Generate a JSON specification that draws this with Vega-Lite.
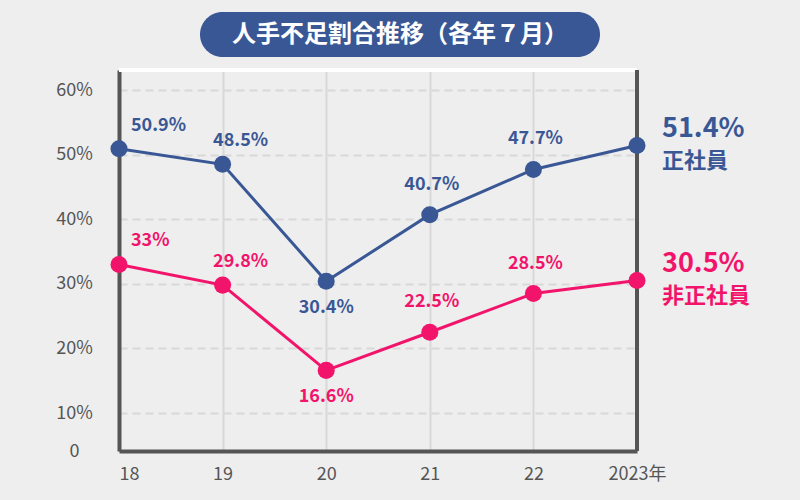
{
  "$schema": "https://vega.github.io/schema/vega-lite/v6.json",
  "width": 518,
  "height": 381,
  "autosize": {"type": "none"},
  "padding": {"left": 119, "top": 70, "right": 163, "bottom": 49},
  "background": "#eeeeee",
  "config": {
    "view": {"stroke": null, "fill": "#eeeeee"},
    "font": "Noto Sans CJK JP",
    "axis": {"labelFont": "Noto Sans CJK JP"}
  },
  "data": {
    "values": [
      {"year": "18", "type": "正社員", "value": 50.9, "label": "50.9%"},
      {"year": "19", "type": "正社員", "value": 48.5, "label": "48.5%"},
      {"year": "20", "type": "正社員", "value": 30.4, "label": "30.4%"},
      {"year": "21", "type": "正社員", "value": 40.7, "label": "40.7%"},
      {"year": "22", "type": "正社員", "value": 47.7, "label": "47.7%"},
      {"year": "2023", "type": "正社員", "value": 51.4, "label": "51.4%"},
      {"year": "18", "type": "非正社員", "value": 33, "label": "33%"},
      {"year": "19", "type": "非正社員", "value": 29.8, "label": "29.8%"},
      {"year": "20", "type": "非正社員", "value": 16.6, "label": "16.6%"},
      {"year": "21", "type": "非正社員", "value": 22.5, "label": "22.5%"},
      {"year": "22", "type": "非正社員", "value": 28.5, "label": "28.5%"},
      {"year": "2023", "type": "非正社員", "value": 30.5, "label": "30.5%"}
    ]
  },
  "layer": [
    {
      "mark": {"type": "line", "strokeWidth": 3},
      "encoding": {
        "x": {
          "field": "year", "type": "ordinal", "title": null,
          "scale": {"type": "point", "padding": 0, "domain": ["18", "19", "20", "21", "22", "2023"]},
          "axis": {
            "title": null, "domainColor": "#555555", "domainWidth": 4,
            "ticks": false, "tickSize": 0, "labelPadding": 14, "labelFontSize": 18,
            "labelColor": "#555555", "labelAngle": 0, "labelBaseline": "top",
            "labelExpr": "datum.value == '2023' ? '2023年' : datum.value",
            "labelAlign": {"condition": {"test": "datum.value == '18'", "value": "left"}, "value": "center"},
            "grid": true, "gridColor": "#d8d8d8", "gridWidth": 2, "labelOverlap": false
          }
        },
        "y": {
          "field": "value", "type": "quantitative", "title": null,
          "scale": {"domain": [4.12, 63.1], "nice": false, "zero": false},
          "axis": {
            "title": null, "values": [4.12, 10, 20, 30, 40, 50, 60],
            "labelExpr": "datum.value < 5 ? '0' : datum.value + '%'",
            "domainColor": "#555555", "domainWidth": 4, "ticks": false, "tickSize": 0,
            "labelPadding": 45, "labelAlign": "center", "labelFontSize": 18, "labelColor": "#555555",
            "grid": true, "gridColor": "#d8d8d8", "gridDash": [8, 5], "gridWidth": 2, "labelOverlap": false
          }
        },
        "color": {
          "field": "type", "type": "nominal",
          "scale": {"domain": ["正社員", "非正社員"], "range": ["#3a5795", "#f2146b"]},
          "legend": null
        }
      }
    },
    {
      "data": {"values": [{"edge": "top"}]},
      "mark": {"type": "rule", "color": "#ffffff", "strokeWidth": 4},
      "encoding": {"y": {"datum": 63.1, "type": "quantitative", "title": null}}
    },
    {
      "data": {"values": [{"edge": "right"}]},
      "mark": {"type": "rule", "color": "#555555", "strokeWidth": 4},
      "encoding": {"x": {"datum": "2023", "type": "ordinal", "title": null}}
    },
    {
      "mark": {"type": "point", "filled": true, "size": 290, "opacity": 1},
      "encoding": {
        "x": {"field": "year", "type": "ordinal", "title": null},
        "y": {"field": "value", "type": "quantitative", "title": null},
        "color": {"field": "type", "type": "nominal", "legend": null}
      }
    },
    {
      "transform": [{"filter": "datum.year == '18'"}],
      "mark": {"type": "text", "align": "left", "dx": 12, "dy": -23, "fontSize": 18, "fontWeight": "bold"},
      "encoding": {
        "x": {"field": "year", "type": "ordinal", "title": null},
        "y": {"field": "value", "type": "quantitative", "title": null},
        "color": {"field": "type", "type": "nominal", "legend": null},
        "text": {"field": "label"}
      }
    },
    {
      "transform": [{"filter": "datum.year == '19'"}],
      "mark": {"type": "text", "align": "center", "dx": 18, "dy": -23, "fontSize": 18, "fontWeight": "bold"},
      "encoding": {
        "x": {"field": "year", "type": "ordinal", "title": null},
        "y": {"field": "value", "type": "quantitative", "title": null},
        "color": {"field": "type", "type": "nominal", "legend": null},
        "text": {"field": "label"}
      }
    },
    {
      "transform": [{"filter": "datum.year == '21' || datum.year == '22'"}],
      "mark": {"type": "text", "align": "center", "dx": 2, "dy": -30, "fontSize": 18, "fontWeight": "bold"},
      "encoding": {
        "x": {"field": "year", "type": "ordinal", "title": null},
        "y": {"field": "value", "type": "quantitative", "title": null},
        "color": {"field": "type", "type": "nominal", "legend": null},
        "text": {"field": "label"}
      }
    },
    {
      "transform": [{"filter": "datum.year == '20'"}],
      "mark": {"type": "text", "align": "center", "dy": 27, "fontSize": 18, "fontWeight": "bold"},
      "encoding": {
        "x": {"field": "year", "type": "ordinal", "title": null},
        "y": {"field": "value", "type": "quantitative", "title": null},
        "color": {"field": "type", "type": "nominal", "legend": null},
        "text": {"field": "label"}
      }
    },
    {
      "transform": [{"filter": "datum.year == '2023'"}],
      "mark": {"type": "text", "align": "left", "dx": 25, "dy": -17, "fontSize": 27, "fontWeight": "bold"},
      "encoding": {
        "x": {"field": "year", "type": "ordinal", "title": null},
        "y": {"field": "value", "type": "quantitative", "title": null},
        "color": {"field": "type", "type": "nominal", "legend": null},
        "text": {"field": "label"}
      }
    },
    {
      "transform": [{"filter": "datum.year == '2023'"}],
      "mark": {"type": "text", "align": "left", "dx": 25, "dy": 15, "fontSize": 22, "fontWeight": "bold"},
      "encoding": {
        "x": {"field": "year", "type": "ordinal", "title": null},
        "y": {"field": "value", "type": "quantitative", "title": null},
        "color": {"field": "type", "type": "nominal", "legend": null},
        "text": {"field": "type"}
      }
    },
    {
      "data": {"values": [{"title": "人手不足割合推移（各年７月）"}]},
      "mark": {"type": "rect", "cornerRadius": 22.5, "color": "#3a5795"},
      "encoding": {"x": {"value": 81}, "x2": {"value": 481}, "y": {"value": -58}, "y2": {"value": -13}}
    },
    {
      "data": {"values": [{"title": "人手不足割合推移（各年７月）"}]},
      "mark": {"type": "text", "align": "center", "baseline": "middle", "fontSize": 24, "fontWeight": "bold", "color": "#ffffff"},
      "encoding": {"x": {"value": 281}, "y": {"value": -35}, "text": {"field": "title"}}
    }
  ]
}
